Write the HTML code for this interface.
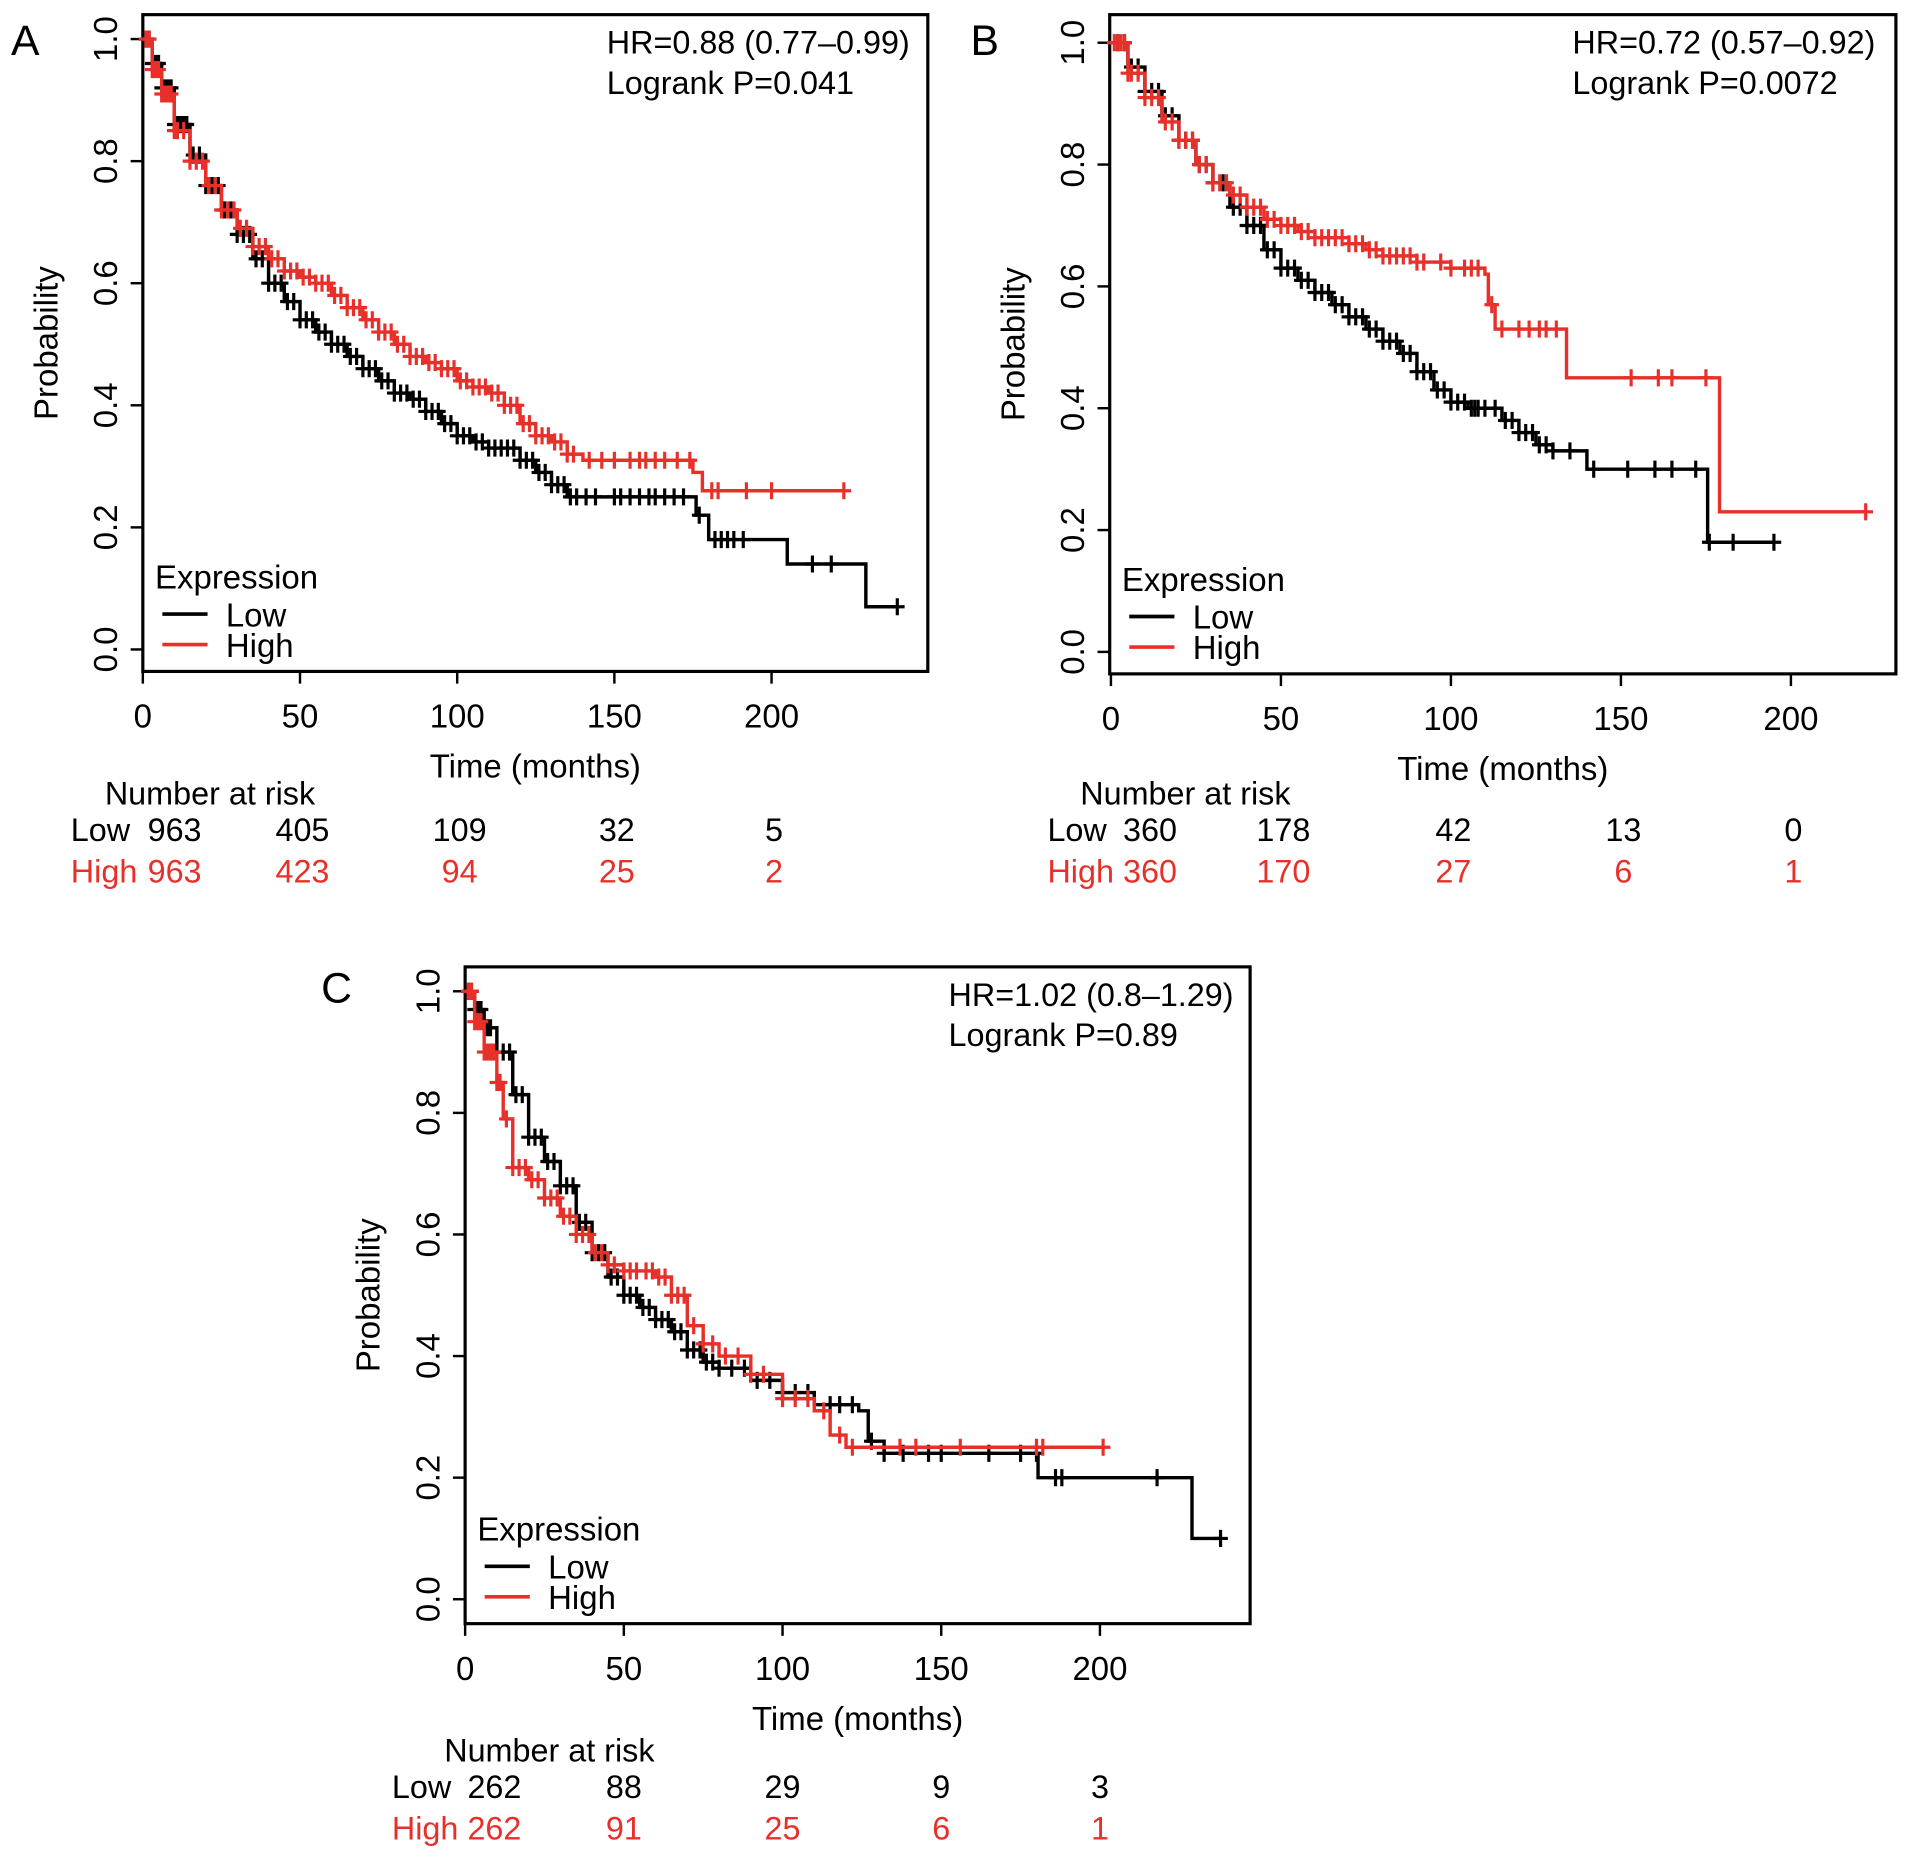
<!DOCTYPE html>
<html><head><meta charset="utf-8"><style>
html,body{margin:0;padding:0;background:#fff;}
svg{display:block;font-family:"Liberation Sans",Arial,sans-serif;}
</style></head><body>
<svg id="fig" width="1913" height="1860" viewBox="0 0 1567 1523.6" preserveAspectRatio="none" xmlns="http://www.w3.org/2000/svg"></svg>
<script>
// ---- Panel A data ----
const aLowT=[0,3,6,10,15,20,25,30,35,40,45,50,55,60,65,70,75,80,85,90,95,100,105,110,115,120,125,130,135,175,176,180,205,230,240];
const aLowS=[1,0.96,0.92,0.86,0.81,0.76,0.72,0.68,0.64,0.60,0.57,0.54,0.52,0.50,0.48,0.46,0.44,0.42,0.41,0.39,0.37,0.35,0.34,0.33,0.33,0.31,0.29,0.27,0.25,0.25,0.22,0.18,0.14,0.07,0.07];
const aHighT=[0,3,6,10,15,20,25,30,35,40,45,50,55,60,65,70,75,80,85,90,95,100,105,110,115,120,125,130,135,140,175,178,223];
const aHighS=[1,0.95,0.91,0.85,0.80,0.76,0.72,0.69,0.66,0.64,0.62,0.61,0.60,0.58,0.56,0.54,0.52,0.50,0.48,0.47,0.46,0.44,0.43,0.42,0.40,0.37,0.35,0.34,0.32,0.31,0.29,0.26,0.26];
const aLowC=[1,2,3,4,5,6,7,8,9,10,11,12,13,14,16,18,20,22,24,26,28,30,32,34,36,38,40,42,44,46,48,50,52,54,56,58,60,62,64,66,68,70,72,74,76,78,80,82,84,86,88,90,92,94,96,98,100,102,104,106,108,110,112,114,116,118,120,122,124,126,128,130,132,134,136,138,141,144,150,152,155,158,161,163,166,169,172,177,182,184,186,188,191,213,219,240];
const aHighC=[1,2,3,4,5,6,7,8,9,10,11,13,15,17,19,21,23,25,27,29,31,33,35,37,39,41,43,45,47,49,51,53,55,57,59,61,63,65,67,69,71,73,75,77,79,81,83,85,87,89,91,93,95,97,99,101,103,105,107,109,111,113,115,117,119,121,123,125,127,129,131,133,135,137,142,146,150,155,158,160,163,166,170,174,181,183,192,200,223];
// ---- Panel B data ----
const bLowT=[0,5,10,15,20,25,30,35,40,45,50,55,60,65,70,75,80,85,90,95,100,105,110,115,120,125,130,140,175,175.5,195];
const bLowS=[1,0.96,0.92,0.88,0.84,0.80,0.77,0.73,0.70,0.66,0.63,0.61,0.59,0.57,0.55,0.53,0.51,0.49,0.46,0.43,0.41,0.40,0.40,0.38,0.36,0.34,0.33,0.30,0.30,0.18,0.18];
const bHighT=[0,5,10,15,20,25,30,35,40,45,50,55,60,70,75,80,90,100,110,111,113,134,179,222];
const bHighS=[1,0.95,0.91,0.87,0.84,0.80,0.77,0.75,0.73,0.71,0.70,0.69,0.68,0.67,0.66,0.65,0.64,0.63,0.62,0.57,0.53,0.45,0.23,0.23];
const bLowC=[2,4,6,8,10,12,14,16,18,20,22,24,26,28,30,33,36,38,40,42,44,46,48,50,52,54,56,58,60,62,64,66,68,70,72,74,76,78,80,82,84,86,88,90,92,94,96,98,100,102,104,106,107,108,110,113,116,118,120,122,124,126,128,130,135,142,152,160,165,172,176,183,195];
const bHighC=[1,2,3,4,5,6,8,10,12,14,16,18,20,22,24,26,28,30,32,34,36,38,40,42,44,46,48,50,52,54,56,58,60,62,64,66,68,70,72,74,76,78,80,82,84,86,88,90,92,97,100,104,106,108,112,115,120,123,126,128,131,153,161,165,175,222];
// ---- Panel C data ----
const cLowT=[0,3,6,10,15,20,25,30,35,40,45,50,55,60,65,70,75,80,90,100,110,124,127,132,180,180.5,229,238];
const cLowS=[1,0.97,0.94,0.90,0.83,0.76,0.72,0.68,0.62,0.57,0.53,0.50,0.48,0.46,0.44,0.41,0.39,0.38,0.36,0.34,0.32,0.31,0.26,0.24,0.24,0.20,0.10,0.10];
const cHighT=[0,3,6,10,12,15,20,25,30,35,40,45,50,55,60,65,70,75,80,90,100,110,115,120,201];
const cHighS=[1,0.95,0.90,0.85,0.79,0.71,0.69,0.66,0.63,0.60,0.57,0.55,0.54,0.54,0.53,0.50,0.45,0.42,0.40,0.37,0.33,0.31,0.27,0.25,0.25];
const cLowC=[1,2,3,4,5,6,7,8,10,12,14,16,18,20,22,24,26,28,30,32,34,36,38,40,42,44,46,48,50,52,54,56,58,60,62,64,66,68,70,72,74,76,78,80,84,88,92,96,100,104,108,115,118,122,128,132,138,146,150,165,175,180,186,188,218,238];
const cHighC=[1,2,3,4,5,6,7,8,9,10,11,13,15,17,19,21,23,25,27,29,31,33,35,37,39,41,43,45,47,50,52,54,57,59,61,63,65,67,69,72,75,78,82,86,90,94,100,104,108,113,118,122,137,142,156,180,182,201];
// ---- tick labels / risk tables ----
const xTicks=[0,50,100,150,200];
const yTicks=[0,0.2,0.4,0.6,0.8,1.0];
const yTickLabels=["0.0","0.2","0.4","0.6","0.8","1.0"];
const aRiskLow=["963","405","109","32","5"], aRiskHigh=["963","423","94","25","2"];
const bRiskLow=["360","178","42","13","0"], bRiskHigh=["360","170","27","6","1"];
const cRiskLow=["262","88","29","9","3"], cRiskHigh=["262","91","25","6","1"];

const NS="http://www.w3.org/2000/svg";
const svg=document.getElementById('fig');
function mk(tag,attrs,parent,text){const e=document.createElementNS(NS,tag);for(const k in attrs)e.setAttribute(k,attrs[k]);if(text!==undefined)e.textContent=text;(parent||svg).appendChild(e);return e;}
const RED="#e8302a";
const FS=27;

function panel(cfg){
  const g=mk('g',{});
  
  
  const X=t=>cfg.x0+t*cfg.px;
  const Y=s=>cfg.y0-s*(cfg.y0-cfg.y1);
  const box=mk('rect',{x:cfg.bl,y:cfg.bt,width:cfg.br-cfg.bl,height:cfg.bb-cfg.bt,fill:'none',stroke:'#000','stroke-width':2.6},g);
  
  const L=mk('text',{x:cfg.lx,y:cfg.ly,'font-size':35},g,cfg.letter);
  
  xTicks.forEach(v=>{
    mk('line',{x1:X(v),x2:X(v),y1:cfg.bb,y2:cfg.bb+10,stroke:'#000','stroke-width':2},g);
    const t=mk('text',{x:X(v),y:cfg.bb+46,'font-size':FS,'text-anchor':'middle'},g,String(v));
    
  });
  yTicks.forEach((v,i)=>{
    mk('line',{x1:cfg.bl,x2:cfg.bl-10,y1:Y(v),y2:Y(v),stroke:'#000','stroke-width':2},g);
    const t=mk('text',{x:0,y:0,'font-size':FS,'text-anchor':'middle',transform:`translate(${cfg.bl-21},${Y(v)}) rotate(-90)`},g,yTickLabels[i]);
    
  });
  const yt=mk('text',{x:0,y:0,'font-size':FS,'text-anchor':'middle',transform:`translate(${cfg.bl-70},${(cfg.bt+cfg.bb)/2}) rotate(-90)`},g,'Probability');
  
  const xt=mk('text',{x:(cfg.bl+cfg.br)/2,y:cfg.bb+87,'font-size':FS,'text-anchor':'middle'},g,'Time (months)');
  
  const h1=mk('text',{x:cfg.hx,y:cfg.bt+32,'font-size':26.5},g,cfg.hr);
  
  const h2=mk('text',{x:cfg.hx,y:cfg.bt+65,'font-size':26.5},g,cfg.p);
  
  function curve(T,S,C,color,name){
    let d=`M${X(T[0])},${Y(S[0])}`;
    for(let i=1;i<T.length;i++){d+=` H${X(T[i])} V${Y(S[i])}`;}
    const p=mk('path',{d:d,fill:'none',stroke:color,'stroke-width':2.8},g);
    
    const sAt=t=>{let s=S[0];for(let i=0;i<T.length;i++){if(T[i]<=t)s=S[i];}return s;};
    let cd='';
    C.forEach(t=>{const x=X(t),y=Y(sAt(t));cd+=`M${x},${y-7}V${y+7}M${x-6},${y}H${x+6}`;});
    const cm=mk('path',{d:cd,fill:'none',stroke:color,'stroke-width':2.6},g);
    
  }
  curve(cfg.lowT,cfg.lowS,cfg.lowC,'#000','low');
  curve(cfg.highT,cfg.highS,cfg.highC,RED,'high');
  const lg=mk('g',{},g);
  
  mk('text',{x:cfg.bl+10,y:cfg.bb-68,'font-size':FS},lg,'Expression');
  mk('line',{x1:cfg.bl+16,x2:cfg.bl+53,y1:cfg.bb-47,y2:cfg.bb-47,stroke:'#000','stroke-width':3},lg);
  mk('line',{x1:cfg.bl+16,x2:cfg.bl+53,y1:cfg.bb-22,y2:cfg.bb-22,stroke:RED,'stroke-width':3},lg);
  mk('text',{x:cfg.bl+68,y:cfg.bb-37,'font-size':FS},lg,'Low');
  mk('text',{x:cfg.bl+68,y:cfg.bb-12,'font-size':FS},lg,'High');
  const rt=mk('g',{},g);
  
  mk('text',{x:cfg.nrx,y:cfg.ry0,'font-size':26.5,'text-anchor':'middle'},rt,'Number at risk');
  mk('text',{x:cfg.rlx,y:cfg.ry0+30,'font-size':26.5},rt,'Low');
  mk('text',{x:cfg.rlx,y:cfg.ry0+64,'font-size':26.5,fill:RED},rt,'High');
  cfg.rLow.forEach((v,i)=>{mk('text',{x:i===0?cfg.r0x:X(xTicks[i])+cfg.rOff,y:cfg.ry0+30,'font-size':26.5,'text-anchor':'middle'},rt,v);});
  cfg.rHigh.forEach((v,i)=>{mk('text',{x:i===0?cfg.r0x:X(xTicks[i])+cfg.rOff,y:cfg.ry0+64,'font-size':26.5,'text-anchor':'middle',fill:RED},rt,v);});
}

panel({name:'panel-a',letter:'A',lx:9,ly:45,bl:117,bt:12,br:760,bb:550,x0:117,px:(632-117)/200,y0:532,y1:32,
  hr:'HR=0.88 (0.77\u20130.99)',p:'Logrank P=0.041',hx:497,
  lowT:aLowT,lowS:aLowS,lowC:aLowC,highT:aHighT,highS:aHighS,highC:aHighC,
  nrx:172,ry0:659,rlx:58,r0x:143,rOff:2,rLow:aRiskLow,rHigh:aRiskHigh});
panel({name:'panel-b',letter:'B',lx:795,ly:45,bl:909,bt:12,br:1553,bb:552,x0:910,px:(1467-910)/200,y0:534,y1:35,
  hr:'HR=0.72 (0.57\u20130.92)',p:'Logrank P=0.0072',hx:1288,
  lowT:bLowT,lowS:bLowS,lowC:bLowC,highT:bHighT,highS:bHighS,highC:bHighC,
  nrx:971,ry0:659,rlx:858,r0x:942,rOff:2,rLow:bRiskLow,rHigh:bRiskHigh});
panel({name:'panel-c',letter:'C',lx:263,ly:821,bl:381,bt:792,br:1024,bb:1330,x0:381,px:(901-381)/200,y0:1310,y1:812,
  hr:'HR=1.02 (0.8\u20131.29)',p:'Logrank P=0.89',hx:777,
  lowT:cLowT,lowS:cLowS,lowC:cLowC,highT:cHighT,highS:cHighS,highC:cHighC,
  nrx:450,ry0:1443,rlx:321,r0x:405,rOff:0,rLow:cRiskLow,rHigh:cRiskHigh});
</script>
</body></html>
